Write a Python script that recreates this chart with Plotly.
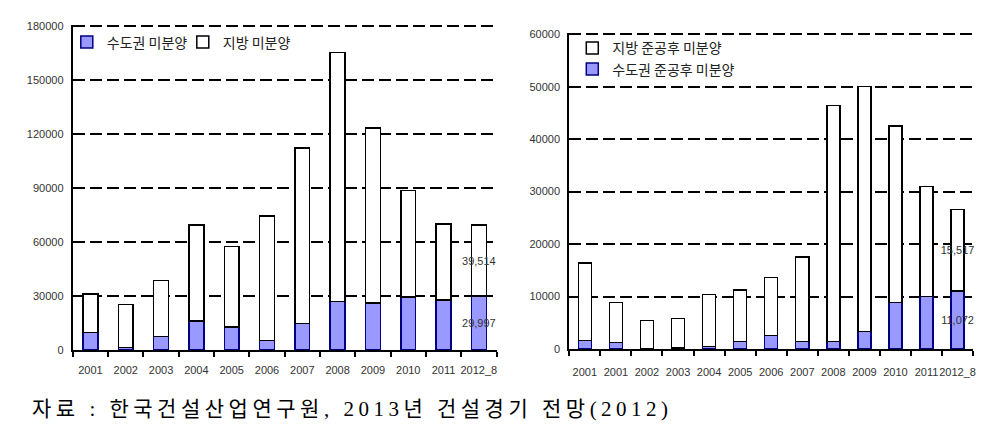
import re
import plotly.graph_objects as go

W, H = 1007, 431

# ---------------- data ----------------
left_categories = ["2001", "2002", "2003", "2004", "2005", "2006",
                   "2007", "2008", "2009", "2010", "2011", "2012_8"]
left_capital = [9800, 1500, 7600, 16100, 12800, 5200,
                14600, 26900, 26000, 29600, 27700, 29997]
left_provincial = [21200, 23800, 31100, 53500, 44700, 69300,
                   97800, 138500, 97600, 59200, 42300, 39514]
left_capital_labels = ["", "", "", "", "", "", "", "", "", "", "", "29,997"]
left_provincial_labels = ["", "", "", "", "", "", "", "", "", "", "", "39,514"]

right_categories = ["2001", "2001", "2002", "2003", "2004", "2005", "2006",
                    "2007", "2008", "2009", "2010", "2011", "2012_8"]
right_capital = [1600, 1200, 100, 200, 450, 1400, 2600,
                 1400, 1400, 3300, 8900, 10000, 11072]
right_provincial = [14800, 7700, 5300, 5600, 9950, 9800, 11000,
                    16100, 45000, 46700, 33600, 21000, 15517]
right_capital_labels = ["", "", "", "", "", "", "", "", "", "", "", "", "11,072"]
right_provincial_labels = ["", "", "", "", "", "", "", "", "", "", "", "", "15,517"]

caption = "자료 : 한국건설산업연구원, 2013년 건설경기 전망(2012)"

# ---------------- style ----------------
BLUE = "#9999FF"
NAVY = "#000080"
TICKFONT = dict(family="Arial, Liberation Sans, sans-serif", size=11, color="#333333")
LEGFONT = dict(family="Noto Sans CJK KR, sans-serif", size=14, color="#222222")
LABELFONT = dict(family="Arial, Liberation Sans, sans-serif", size=11, color="#333333")

left_x = list(range(len(left_categories)))
right_x = list(range(len(right_categories)))

fig = go.Figure()

common_bar = dict(width=0.42, textposition="inside", insidetextanchor="middle",
                  textangle=0, constraintext="none", textfont=LABELFONT,
                  hoverinfo="skip", cliponaxis=False)

fig.add_trace(go.Bar(x=left_x, y=left_capital, name="수도권 미분양",
                     marker=dict(color=BLUE, line=dict(color=NAVY, width=1.5)),
                     text=left_capital_labels, xaxis="x", yaxis="y",
                     legend="legend", **common_bar))
fig.add_trace(go.Bar(x=left_x, y=left_provincial, name="지방 미분양",
                     marker=dict(color="white", line=dict(color="black", width=1.5)),
                     text=left_provincial_labels, xaxis="x", yaxis="y",
                     legend="legend", **common_bar))

fig.add_trace(go.Bar(x=right_x, y=right_capital, name="수도권 준공후 미분양",
                     marker=dict(color=BLUE, line=dict(color=NAVY, width=1.5)),
                     text=right_capital_labels, xaxis="x2", yaxis="y2",
                     legend="legend2", **common_bar))
fig.add_trace(go.Bar(x=right_x, y=right_provincial, name="지방 준공후 미분양",
                     marker=dict(color="white", line=dict(color="black", width=1.5)),
                     text=right_provincial_labels, xaxis="x2", yaxis="y2",
                     legend="legend2", **common_bar))

def xaxis_cfg(domain, cats, standoff):
    return dict(
        domain=domain,
        range=[-0.5, len(cats) - 0.5],
        tickmode="array", tickvals=list(range(len(cats))), ticktext=cats,
        ticks="", tickangle=0, tickfont=TICKFONT,
        showline=True, linecolor="black", linewidth=2,
        showgrid=False, zeroline=False,
        minor=dict(tick0=0.5, dtick=1, ticks="outside", ticklen=5,
                   tickwidth=1.5, tickcolor="black", showgrid=False),
        ticklabelstandoff=standoff,
    )

EXT = 1.004  # tiny headroom so the top gridline is drawn

def yaxis_cfg(bottom_px, top_px, top, step):
    top_px_ext = bottom_px - (bottom_px - top_px) * EXT
    return dict(
        domain=[(H - bottom_px) / H, (H - top_px_ext) / H],
        range=[0, top * EXT], tickmode="linear", tick0=0, dtick=step,
        tickformat="d", tickfont=TICKFONT, ticks="",
        showline=True, linecolor="black", linewidth=2,
        showgrid=True, gridcolor="black", gridwidth=1.5, griddash="12px,5px",
        zeroline=False, ticklabelstandoff=5,
    )

lx = xaxis_cfg([73 / W, 498 / W], left_categories, 9)
lx["anchor"] = "y"
rx = xaxis_cfg([571 / W, 976 / W], right_categories, 12)
rx["anchor"] = "y2"
ly = yaxis_cfg(354, 22, 180000, 30000)
ly["anchor"] = "x"
ry = yaxis_cfg(353, 30, 60000, 10000)
ry["anchor"] = "x2"

fig.update_layout(
    width=W, height=H,
    margin=dict(l=0, r=0, t=0, b=0),
    paper_bgcolor="white", plot_bgcolor="white",
    barmode="stack",
    xaxis=lx, yaxis=ly, xaxis2=rx, yaxis2=ry,
    legend=dict(orientation="h", traceorder="normal",
                x=(103 - 36) / W, xanchor="left",
                y=(H - 22) / H, yanchor="top",
                font=LEGFONT, bgcolor="rgba(0,0,0,0)",
                entrywidth=71, itemwidth=30),
    legend2=dict(orientation="v", traceorder="reversed",
                 x=(610 - 36) / W, xanchor="left",
                 y=(H - 28) / H, yanchor="top",
                 font=LEGFONT, bgcolor="rgba(0,0,0,0)", itemwidth=30),
    showlegend=True,
    font=dict(family="Arial, Liberation Sans, sans-serif"),
)

# caption: Latin runs explicitly in a serif face, Hangul in the CJK face
SERIF = "Liberation Serif"
parts = re.split(r"([0-9(),:]+)", caption)
html = ""
for p in parts:
    if not p:
        continue
    if re.fullmatch(r"[0-9(),:]+", p):
        html += '<span style="font-family:\'%s\'">%s</span>' % (SERIF, p)
    else:
        html += p
fig.add_annotation(
    text='<span style="letter-spacing:4.5px">' + html + '</span>',
    xref="paper", yref="paper", x=30 / W, y=(H - 415) / H,
    xanchor="left", yanchor="middle", showarrow=False,
    font=dict(family="Liberation Serif, Noto Sans CJK KR, serif",
              size=21, color="black"),
)

fig.write_html("out.html")
